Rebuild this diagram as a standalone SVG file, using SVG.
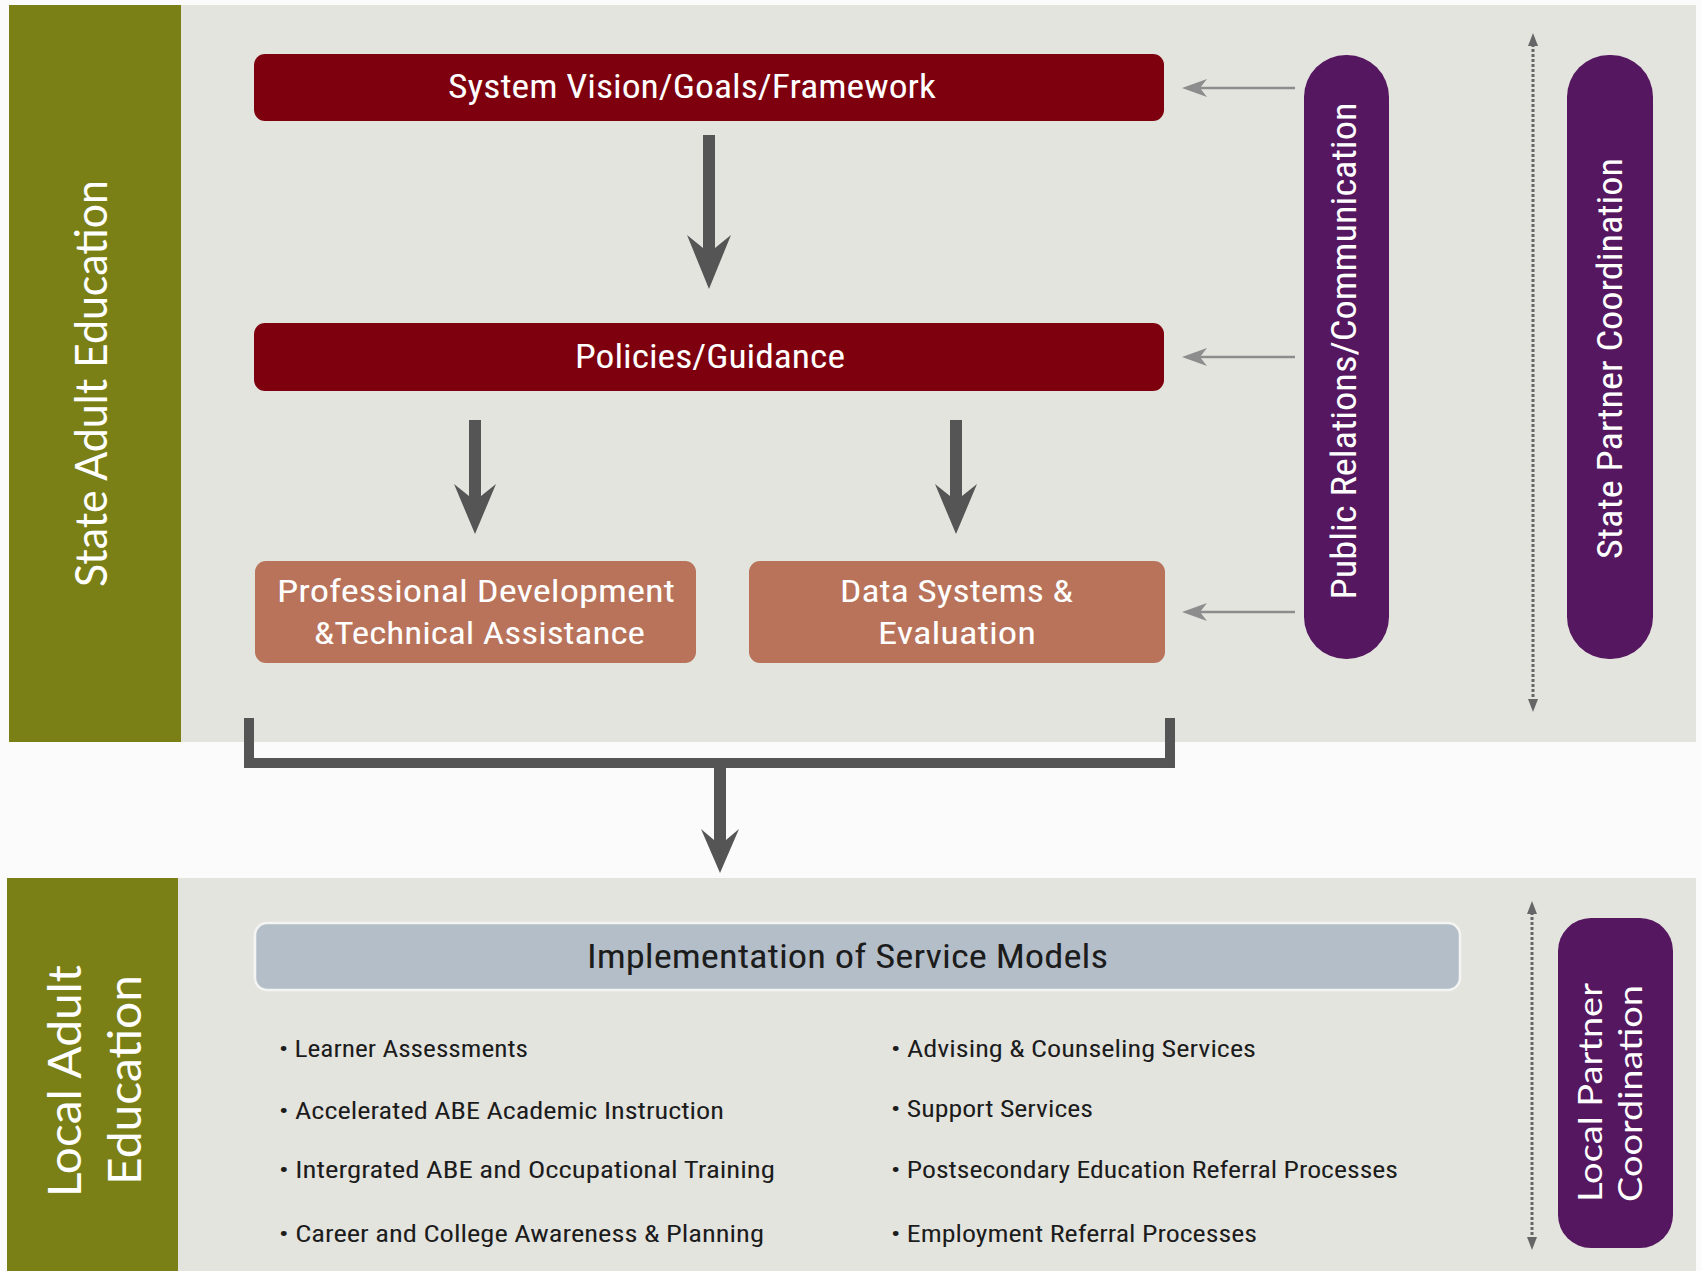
<svg xmlns="http://www.w3.org/2000/svg" width="1701" height="1271" viewBox="0 0 1701 1271">
<style>
.band{fill:#e4e4df}
.green{fill:#7b8016}
.red{fill:#7e000e}
.salmon{fill:#b8735a}
.purple{fill:#55175f}
.cond{font-family:"Liberation Sans Narrow","Roboto Condensed","Open Sans",sans-serif}
.geo{font-family:"Lato","Open Sans","DejaVu Sans",sans-serif}
.wt{fill:#ffffff}
.dk{fill:#1c1c1c}
.bul{font-size:23px}
.big{stroke:#555555;stroke-width:10;fill:none}
.heavy{fill:#555555}
.thin{stroke:#8d8d8d;stroke-width:2.5;fill:none}
.thinhead{fill:#8d8d8d}
.dots{stroke:#666666;stroke-width:3;stroke-dasharray:3 2;fill:none}
.dothead{fill:#666666}
</style>
<rect x="0" y="0" width="1701" height="1271" fill="#fbfbfb"/>
<rect class="band" x="181" y="5" width="1515" height="737"/>
<rect class="band" x="178" y="878" width="1518" height="393"/>

<g id="state-adult-education">
<rect class="green" x="9" y="5" width="172" height="737"/>
<text class="geo wt" font-size="44" text-anchor="middle" textLength="407" lengthAdjust="spacingAndGlyphs" transform="translate(107,383.5) rotate(-90)">State Adult Education</text>
</g>

<g id="local-adult-education">
<rect class="green" x="7" y="878" width="171" height="393"/>
<text class="geo wt" font-size="46" text-anchor="middle" textLength="232" lengthAdjust="spacingAndGlyphs" transform="translate(81,1081) rotate(-90)">Local Adult</text>
<text class="geo wt" font-size="46" text-anchor="middle" textLength="210" lengthAdjust="spacingAndGlyphs" transform="translate(141,1080) rotate(-90)">Education</text>
</g>

<g id="system-vision">
<rect class="red" x="254" y="54" width="910" height="67" rx="11"/>
<text class="cond wt" font-size="33" x="448" y="98" textLength="488" lengthAdjust="spacingAndGlyphs">System Vision/Goals/Framework</text>
</g>

<g id="policies">
<rect class="red" x="254" y="323" width="910" height="68" rx="11"/>
<text class="cond wt" font-size="33" x="575" y="368" textLength="270" lengthAdjust="spacingAndGlyphs">Policies/Guidance</text>
</g>

<g id="professional-development">
<rect class="salmon" x="255" y="561" width="441" height="102" rx="11"/>
<text class="cond wt" font-size="32" x="277" y="602" textLength="398" lengthAdjust="spacingAndGlyphs">Professional Development</text>
<text class="cond wt" font-size="32" x="314" y="644" textLength="331" lengthAdjust="spacingAndGlyphs">&amp;Technical Assistance</text>
</g>

<g id="data-systems">
<rect class="salmon" x="749" y="561" width="416" height="102" rx="11"/>
<text class="cond wt" font-size="32" x="840" y="602" textLength="233" lengthAdjust="spacingAndGlyphs">Data Systems &amp;</text>
<text class="cond wt" font-size="32" x="878" y="644" textLength="158" lengthAdjust="spacingAndGlyphs">Evaluation</text>
</g>

<g id="public-relations">
<rect class="purple" x="1304" y="55" width="85" height="604" rx="42"/>
<text class="cond wt" font-size="35" text-anchor="middle" textLength="497" lengthAdjust="spacingAndGlyphs" transform="translate(1356,351) rotate(-90)">Public Relations/Communication</text>
</g>

<g id="state-partner">
<rect class="purple" x="1567" y="55" width="86" height="604" rx="42"/>
<text class="cond wt" font-size="35" text-anchor="middle" textLength="401" lengthAdjust="spacingAndGlyphs" transform="translate(1622,358.5) rotate(-90)">State Partner Coordination</text>
</g>

<g id="implementation">
<rect x="255" y="923" width="1205" height="67" rx="12" fill="#b4bec9" stroke="#f4f4f2" stroke-width="2.5"/>
<text class="cond dk" font-size="33" x="587" y="968" textLength="521" lengthAdjust="spacingAndGlyphs">Implementation of Service Models</text>
</g>

<g id="services-left">
<text class="cond dk bul" x="279" y="1057" textLength="249" lengthAdjust="spacingAndGlyphs">• Learner Assessments</text>
<text class="cond dk bul" x="279" y="1119" textLength="445" lengthAdjust="spacingAndGlyphs">• Accelerated ABE Academic Instruction</text>
<text class="cond dk bul" x="279" y="1178" textLength="496" lengthAdjust="spacingAndGlyphs">• Intergrated ABE and Occupational Training</text>
<text class="cond dk bul" x="279" y="1242" textLength="485" lengthAdjust="spacingAndGlyphs">• Career and College Awareness &amp; Planning</text>
</g>

<g id="services-right">
<text class="cond dk bul" x="891" y="1057" textLength="365" lengthAdjust="spacingAndGlyphs">• Advising &amp; Counseling Services</text>
<text class="cond dk bul" x="891" y="1117" textLength="202" lengthAdjust="spacingAndGlyphs">• Support Services</text>
<text class="cond dk bul" x="891" y="1178" textLength="507" lengthAdjust="spacingAndGlyphs">• Postsecondary Education Referral Processes</text>
<text class="cond dk bul" x="891" y="1242" textLength="366" lengthAdjust="spacingAndGlyphs">• Employment Referral Processes</text>
</g>

<g id="local-partner">
<rect class="purple" x="1558" y="918" width="115" height="330" rx="33"/>
<text class="geo wt" font-size="33" text-anchor="middle" textLength="219" lengthAdjust="spacingAndGlyphs" transform="translate(1602,1092.5) rotate(-90)">Local Partner</text>
<text class="geo wt" font-size="33" text-anchor="middle" textLength="217" lengthAdjust="spacingAndGlyphs" transform="translate(1642,1093.5) rotate(-90)">Coordination</text>
</g>

<g id="connectors">
<polygon class="heavy" points="703,135 715,135 715,248 731,235 709,289 687,235 703,248"/>
<polygon class="heavy" points="469,420 481,420 481,496 496,484 475,534 454,484 469,496"/>
<polygon class="heavy" points="950,420 962,420 962,496 977,484 956,534 935,484 950,496"/>
<path class="big" d="M249,718 V763 H1170 V718"/>
<polygon class="heavy" points="714,763 726,763 726,840 739,829 720,873 701,829 714,840"/>
<line class="thin" x1="1295" y1="88" x2="1198" y2="88"/>
<polygon class="thinhead" points="1182,88 1207,79 1200,88 1207,97"/>
<line class="thin" x1="1295" y1="357" x2="1198" y2="357"/>
<polygon class="thinhead" points="1182,357 1207,348 1200,357 1207,366"/>
<line class="thin" x1="1295" y1="612" x2="1198" y2="612"/>
<polygon class="thinhead" points="1182,612 1207,603 1200,612 1207,621"/>
<line class="dots" x1="1533" y1="44" x2="1533" y2="701"/>
<polygon class="dothead" points="1533,33 1528,46 1538,46"/>
<polygon class="dothead" points="1533,712 1528,699 1538,699"/>
<line class="dots" x1="1532" y1="912" x2="1532" y2="1239"/>
<polygon class="dothead" points="1532,901 1527,914 1537,914"/>
<polygon class="dothead" points="1532,1250 1527,1237 1537,1237"/>
</g>
</svg>
